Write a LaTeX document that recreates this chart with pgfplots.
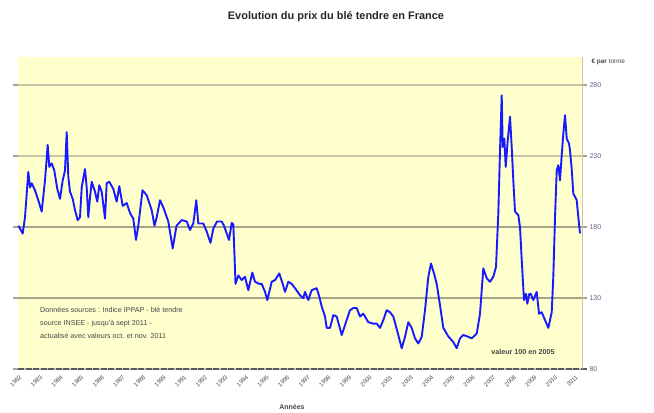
\documentclass[border=0pt]{standalone}
\usepackage{fontspec}
\setmainfont{Liberation Sans}
\usepackage{pgfplots}
\pgfplotsset{compat=1.18}
\definecolor{bgyellow}{RGB}{255,255,206}
\definecolor{gridlight}{RGB}{200,197,168}
\definecolor{griddark}{RGB}{168,164,138}
\definecolor{tickcol}{RGB}{100,96,130}
\definecolor{lineblue}{RGB}{25,25,255}
\definecolor{txtgray}{RGB}{70,70,70}
\begin{document}
\begin{tikzpicture}[x=1bp,y=1bp]
\useasboundingbox (0,0) rectangle (654,412);
\begin{axis}[
  at={(18bp,43bp)}, anchor=south west,
  scale only axis, width=564bp, height=312bp,
  xmin=18, xmax=582, ymin=80, ymax=300,
  axis background/.style={fill=bgyellow},
  axis line style={draw=none},
  ymajorgrids, grid style={line width=2.2bp, color=gridlight},
  ytick={80,230,280},
  extra y ticks={130,180},
  extra y tick style={grid style={line width=2.2bp, color=griddark}},
  yticklabel pos=right,
  tick align=outside, major tick length=5bp,
  ytick style={draw=griddark, line width=2.2bp},
  /pgf/number format/assume math mode=true,
  y tick label style={font=\fontsize{7}{8}\selectfont, color=tickcol, xshift=-1bp},
  xtick={20,40.6,...,577},
  xticklabels={1982,1983,1984,1985,1986,1987,1988,1989,1991,1992,1993,1994,1995,1996,1997,1998,1999,2000,2001,2003,2004,2005,2006,2007,2008,2009,2010,2011},
  xtick style={draw=none},
  x tick label style={rotate=45, anchor=east, font=\fontsize{6}{6.5}\selectfont, color=txtgray, yshift=-2bp, inner sep=1bp},
  clip=false,
]
\addplot[color=lineblue, line width=1.9bp, line join=round] coordinates {
(18.5,181) (19.3,180) (22.7,175.5) (25,187) (28.3,219) (30,208) (31.7,211) (35,206) (38.3,199) (41.7,191)
(45,213) (47.7,238) (49.3,222.5) (51.7,225) (54.3,220) (57.3,207) (60,200) (62.7,213) (65,220) (66.7,247)
(68.3,215.5) (70,205) (72.7,200) (75,192) (77.7,185) (80,187) (81.7,208) (85,221) (86.7,208) (88.3,187)
(90,201) (91.7,212) (95,205) (97.3,198) (99.3,209.6) (101.7,205) (105,186) (106.7,211) (109.3,212) (113.3,207)
(116.7,198) (119.3,209) (122.7,195) (126.7,197) (130,190) (133.3,186) (136,171) (138.3,181) (142.5,206) (146.7,202.5)
(151.7,192) (154.5,181) (156.7,187) (160,199) (163.3,194) (168.3,184) (172.7,165) (176.5,181) (181.7,185) (186.7,184)
(190,178) (193.3,182.6) (196.3,199) (198.3,182.6) (203.3,182.6) (206.7,177) (210.5,169) (213.3,179) (217,184) (221.7,184)
(224,181) (226.7,175.6) (229,171) (231.7,183) (233.3,182) (234.5,160) (235.5,140) (238.3,146) (241.7,142.7) (245,145)
(248.3,135.6) (252.3,148) (255,141.5) (259.3,140) (261.7,140) (265,134.4) (267.3,128.6) (271.7,141.5) (275,142.7) (279.3,147.4)
(282.7,140) (285,134.4) (288.3,141.5) (291.7,140) (295,137) (300,132) (303.3,130) (305,134.4) (308.3,128.6) (311.7,135.6)
(316.7,137) (319.3,131) (321.7,124) (325,117) (326.7,109) (330,109) (333.3,118) (336.7,117) (341.7,104) (345,111)
(350,121.5) (353.3,123) (356.7,123) (360,117) (363.3,119) (368.3,113) (373.3,112) (376.7,112) (380,109) (383.3,114.5)
(386.7,121.5) (390,120) (393.3,117) (398.3,104) (401.7,94.6) (405,102.7) (408.3,113) (411.7,109) (415,101.6) (418.3,98)
(421.7,102.7) (425,121.5) (428.3,145) (431,154.4) (434,147.4) (436.7,140) (440,125) (443.3,109) (448.3,103) (453.3,99)
(456.7,94.6) (460,101.6) (463.3,104) (468.3,102.7) (471.7,101.6) (476.7,105) (480,119) (483.3,151) (486.7,144) (490,141.5)
(493.3,145) (496,152) (498.3,189.6) (500,234) (501.7,273) (502.7,236.5) (504.3,242.5) (505.7,222.5) (507.7,241) (510,258)
(511.7,236.5) (513.3,213) (515,191) (518.3,188.5) (520,180) (521.7,157) (524,128.6) (526,133) (527.3,126) (529.3,133)
(530.7,133) (533.3,128.6) (536.7,134.4) (539,119) (541.7,120) (545,114.5) (548.3,109) (551.7,120) (553.3,145) (555,187)
(556.7,220) (558.3,223.7) (560,213) (561.7,230.7) (563.3,246) (565,259) (566.7,242.5) (569,239) (570,234) (571.7,221)
(573.3,203.7) (575,201.4) (576.7,199) (578.3,187) (580,175.6)
};
\draw[line width=2.6bp, color=black!65, dash pattern=on 6bp off 1.5bp] (rel axis cs:0,0) -- (rel axis cs:1.008,0);
\draw[line width=0.8bp, color=gridlight] (rel axis cs:1,0) -- (rel axis cs:1,1);
\end{axis}
\node[font=\bfseries\fontsize{11}{13}\selectfont, color=black!85] at (336,395) {Evolution du prix du blé tendre en France};
\node[font=\fontsize{6.5}{8}\selectfont, anchor=west, color=txtgray] at (588,350) {\textbf{€ par} tonne};
\node[font=\fontsize{7.2}{13}\selectfont, anchor=north west, align=left, color=txtgray, inner sep=0pt] at (40,105)
  {Données sources : Indice IPPAP - blé tendre\\source INSEE - jusqu'à sept 2011 -\\actualisé avec valeurs oct. et nov. 2011};
\node[font=\bfseries\fontsize{7.2}{8}\selectfont, color=txtgray] at (523,60) {valeur 100 en 2005};
\node[font=\bfseries\fontsize{7}{8}\selectfont, color=txtgray] at (292,5) {Années};
\end{tikzpicture}
\end{document}
